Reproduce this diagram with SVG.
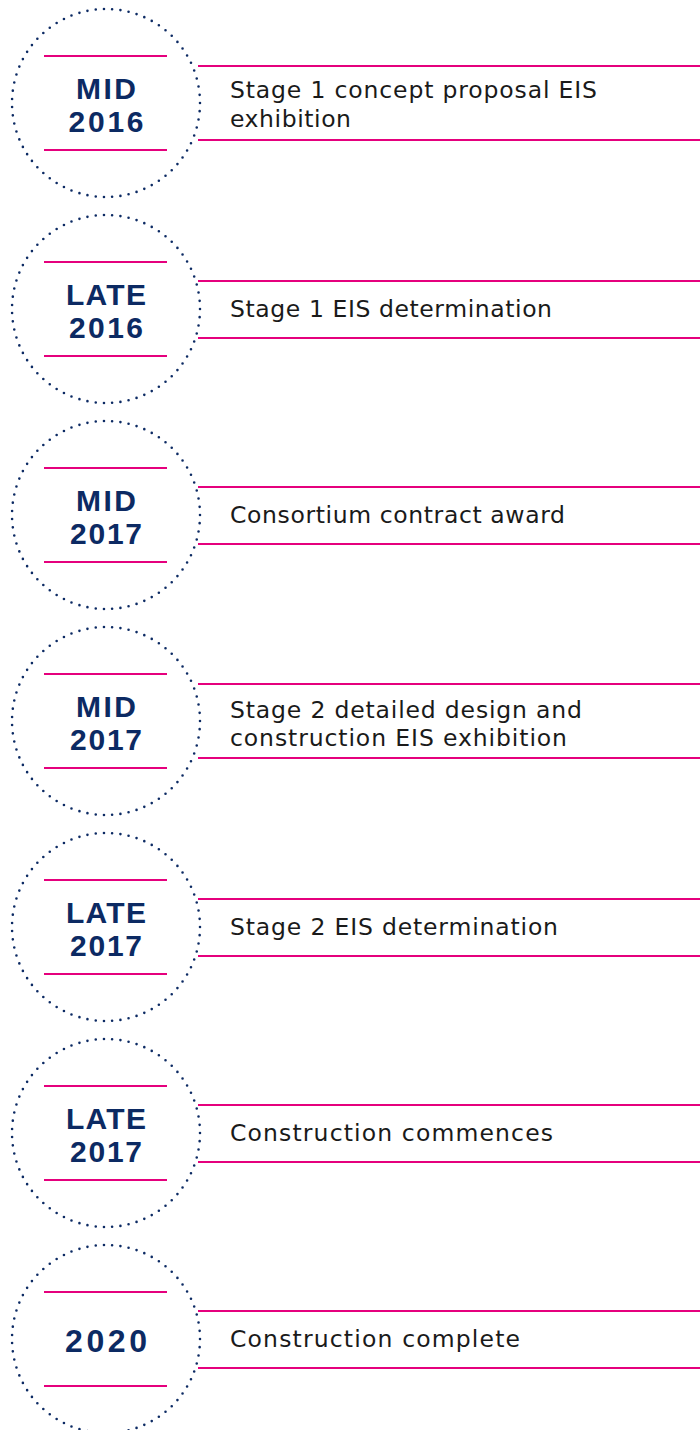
<svg xmlns="http://www.w3.org/2000/svg" width="700" height="1430" viewBox="0 0 700 1430">
<style>
.ring{fill:none;stroke:#0c2a63;stroke-width:2.6;stroke-linecap:round;stroke-dasharray:0 1}
.pk{stroke:#e5007d;stroke-width:2}
.dt{font-family:"Liberation Sans",Arial,sans-serif;font-weight:bold;font-size:30px;fill:#0c2a63;text-anchor:middle}
.ds{font-family:"DejaVu Sans","Liberation Sans",sans-serif;font-size:23.5px;fill:#1a1a1a}
</style>
<rect width="700" height="1430" fill="#fff"/>
<g id="connectors">
<line class="pk" x1="198" y1="66" x2="700" y2="66"/><line class="pk" x1="198" y1="140" x2="700" y2="140"/>
<line class="pk" x1="198" y1="281" x2="700" y2="281"/><line class="pk" x1="198" y1="338" x2="700" y2="338"/>
<line class="pk" x1="198" y1="487" x2="700" y2="487"/><line class="pk" x1="198" y1="544" x2="700" y2="544"/>
<line class="pk" x1="198" y1="684" x2="700" y2="684"/><line class="pk" x1="198" y1="758" x2="700" y2="758"/>
<line class="pk" x1="198" y1="899" x2="700" y2="899"/><line class="pk" x1="198" y1="956" x2="700" y2="956"/>
<line class="pk" x1="198" y1="1105" x2="700" y2="1105"/><line class="pk" x1="198" y1="1162" x2="700" y2="1162"/>
<line class="pk" x1="198" y1="1311" x2="700" y2="1311"/><line class="pk" x1="198" y1="1368" x2="700" y2="1368"/>
</g>
<g id="n1">
<circle class="ring" cx="106" cy="103" r="94" pathLength="71"/>
<line class="pk" x1="44" y1="56" x2="167" y2="56"/><line class="pk" x1="44" y1="150" x2="167" y2="150"/>
<text class="dt" x="106" y="99" textLength="60">MID</text><text class="dt" x="106" y="132" textLength="75">2016</text>
<text class="ds" x="230" y="98" textLength="367">Stage 1 concept proposal EIS</text><text class="ds" x="230" y="127" textLength="121">exhibition</text>
</g>
<g id="n2">
<circle class="ring" cx="106" cy="309" r="94" pathLength="71"/>
<line class="pk" x1="44" y1="262" x2="167" y2="262"/><line class="pk" x1="44" y1="356" x2="167" y2="356"/>
<text class="dt" x="106" y="305" textLength="80">LATE</text><text class="dt" x="106" y="338" textLength="74">2016</text>
<text class="ds" x="230" y="317" textLength="322">Stage 1 EIS determination</text>
</g>
<g id="n3">
<circle class="ring" cx="106" cy="515" r="94" pathLength="71"/>
<line class="pk" x1="44" y1="468" x2="167" y2="468"/><line class="pk" x1="44" y1="562" x2="167" y2="562"/>
<text class="dt" x="106" y="511" textLength="60">MID</text><text class="dt" x="106" y="544" textLength="72">2017</text>
<text class="ds" x="230" y="523" textLength="335">Consortium contract award</text>
</g>
<g id="n4">
<circle class="ring" cx="106" cy="721" r="94" pathLength="71"/>
<line class="pk" x1="44" y1="674" x2="167" y2="674"/><line class="pk" x1="44" y1="768" x2="167" y2="768"/>
<text class="dt" x="106" y="717" textLength="60">MID</text><text class="dt" x="106" y="750" textLength="72">2017</text>
<text class="ds" x="230" y="718" textLength="352">Stage 2 detailed design and</text><text class="ds" x="230" y="746" textLength="337">construction EIS exhibition</text>
</g>
<g id="n5">
<circle class="ring" cx="106" cy="927" r="94" pathLength="71"/>
<line class="pk" x1="44" y1="880" x2="167" y2="880"/><line class="pk" x1="44" y1="974" x2="167" y2="974"/>
<text class="dt" x="106" y="923" textLength="80">LATE</text><text class="dt" x="106" y="956" textLength="72">2017</text>
<text class="ds" x="230" y="935" textLength="328">Stage 2 EIS determination</text>
</g>
<g id="n6">
<circle class="ring" cx="106" cy="1133" r="94" pathLength="71"/>
<line class="pk" x1="44" y1="1086" x2="167" y2="1086"/><line class="pk" x1="44" y1="1180" x2="167" y2="1180"/>
<text class="dt" x="106" y="1129" textLength="80">LATE</text><text class="dt" x="106" y="1162" textLength="72">2017</text>
<text class="ds" x="230" y="1141" textLength="323">Construction commences</text>
</g>
<g id="n7">
<circle class="ring" cx="106" cy="1339" r="94" pathLength="71"/>
<line class="pk" x1="44" y1="1292" x2="167" y2="1292"/><line class="pk" x1="44" y1="1386" x2="167" y2="1386"/>
<text class="dt" x="106" y="1352" textLength="82" style="font-size:32px">2020</text>
<text class="ds" x="230" y="1347" textLength="290">Construction complete</text>
</g>
</svg>
